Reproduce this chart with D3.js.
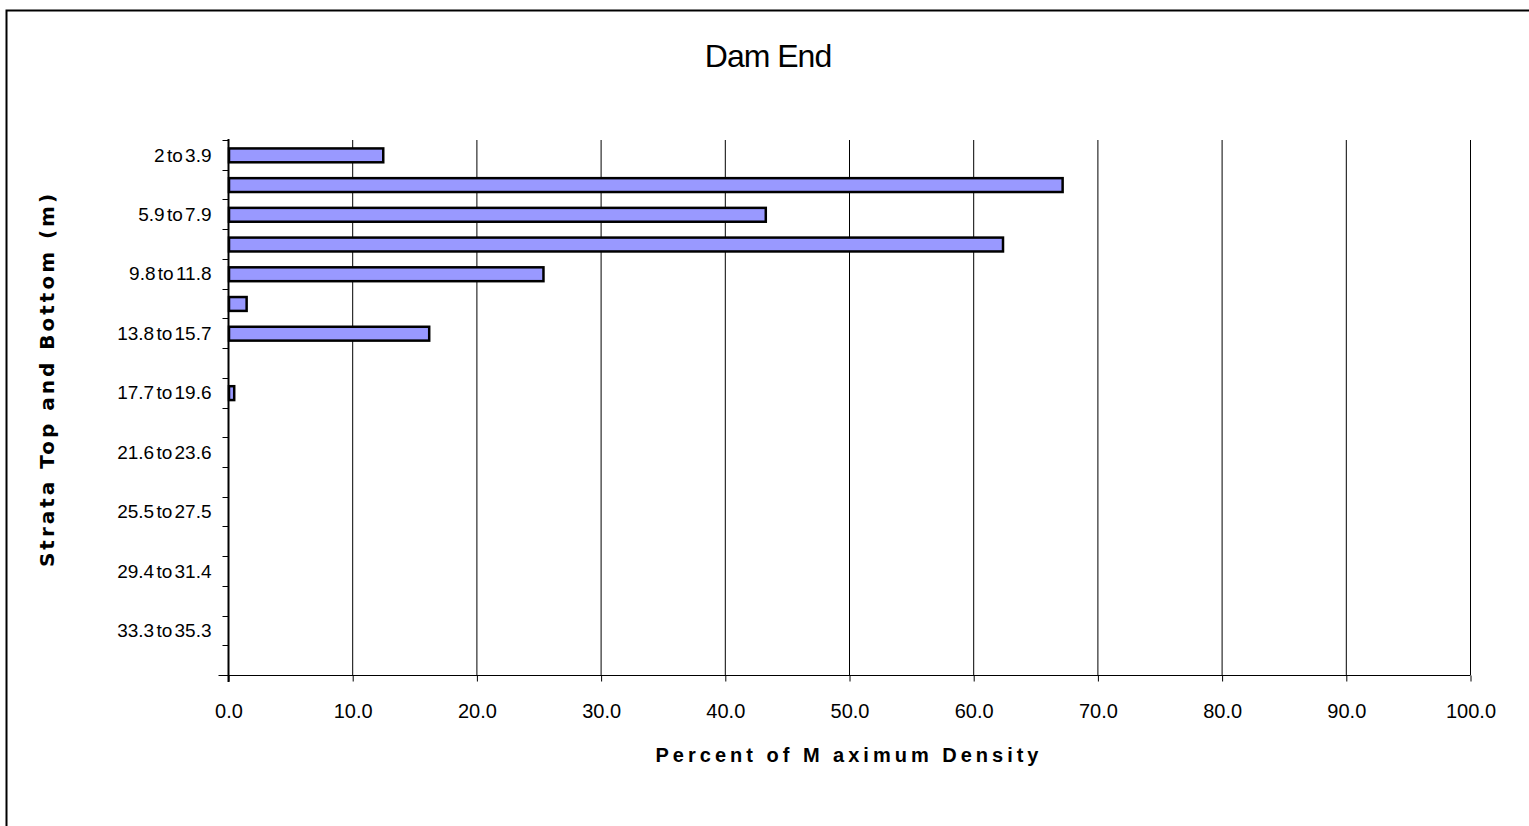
<!DOCTYPE html>
<html><head><meta charset="utf-8">
<script src="https://cdn.jsdelivr.net/npm/d3@7"></script>
<style>body{margin:0;background:#fff}svg{display:block}</style>
</head><body>
<script>
const categories = ["2 to 3.9","3.9 to 5.9","5.9 to 7.9","7.9 to 9.8","9.8 to 11.8","11.8 to 13.8","13.8 to 15.7","15.7 to 17.7","17.7 to 19.6","19.6 to 21.6","21.6 to 23.6","23.6 to 25.5","25.5 to 27.5","27.5 to 29.4","29.4 to 31.4","31.4 to 33.3","33.3 to 35.3","35.3 to 37.3"];
const values = [12.5,67.2,43.3,62.4,25.4,1.5,16.2,0,0.5,0,0,0,0,0,0,0,0,0];
const xTicks = [0,10,20,30,40,50,60,70,80,90,100];
const title = "Dam End";
const xTitle = "Percent of M aximum Density";
const yTitle = "Strata Top and Bottom (m)";

const W = 1529, H = 826;
const FONT = "Arial, 'Liberation Sans', sans-serif";
const svg = d3.select("body").append("svg").attr("width", W).attr("height", H);
svg.append("rect").attr("x",6.5).attr("y",10.5).attr("width",W+10).attr("height",H+10)
  .attr("fill","#fff").attr("stroke","#000").attr("stroke-width",2);

const L = 228, R = 1470, T = 140, B = 675;
const x = d3.scaleLinear().domain([0,100]).range([L,R]);
const y = d3.scaleBand().domain(categories).range([T,B]).paddingInner(0.5).paddingOuter(0.25);

// gridlines
svg.append("g").selectAll("line").data(xTicks.slice(1)).join("line")
  .attr("x1", d=>x(d)+0.5).attr("x2", d=>x(d)+0.5).attr("y1", T).attr("y2", B)
  .attr("stroke","#000").attr("stroke-width",1);

// bars
svg.append("g").selectAll("rect").data(values.map((v,i)=>({v,c:categories[i]})).filter(d=>d.v>0)).join("rect")
  .attr("x", x(0)+1).attr("y", d=>y(d.c)+1)
  .attr("width", d=>Math.max(x(d.v)-x(0)-1,3)).attr("height", y.bandwidth()-1)
  .attr("fill","#9999ff").attr("stroke","#000").attr("stroke-width",2.5);

// x axis
const xAxis = d3.axisBottom(x).tickValues(xTicks).tickFormat(d3.format(".1f")).tickSize(6).tickPadding(22);
const gx = svg.append("g").attr("transform",`translate(0.5,${B+0.5})`).call(xAxis);
gx.select(".domain").attr("d",`M${L-10},0H${R}`).attr("stroke","#000");
gx.selectAll(".tick line").attr("stroke","#000");
gx.selectAll("text").attr("font-family",FONT).attr("font-size",20).attr("fill","#000");

// y axis
const yEdge = d3.scaleOrdinal().domain(d3.range(categories.length+1)).range(d3.range(categories.length+1).map(i=>T + i*(B-T)/categories.length));
const gy = svg.append("g").attr("transform",`translate(${L+0.5},0)`);
gy.append("line").attr("x1",0).attr("x2",0).attr("y1",T-1).attr("y2",B+7).attr("stroke","#000").attr("stroke-width",2);
gy.selectAll("line.tk").data(d3.range(categories.length)).join("line").attr("class","tk")
  .attr("x1",-6).attr("x2",0).attr("y1",d=>Math.round(yEdge(d))+0.5).attr("y2",d=>Math.round(yEdge(d))+0.5)
  .attr("stroke","#000");
gy.selectAll("text").data(categories.filter((c,i)=>i%2===0)).join("text")
  .attr("x",-17).attr("y",d=>y(d)+y.bandwidth()/2).attr("dy","0.35em")
  .attr("text-anchor","end").attr("font-family",FONT).attr("font-size",19)
  .attr("word-spacing","-3px").text(d=>d);

// titles
svg.append("text").attr("x",768).attr("y",67).attr("text-anchor","middle")
  .attr("font-family",FONT).attr("font-size",32)
  .attr("letter-spacing","-1px").text(title);
svg.append("text").attr("x",(L+R)/2).attr("y",762).attr("text-anchor","middle")
  .attr("font-family",FONT).attr("font-size",20).attr("font-weight","bold")
  .attr("letter-spacing","4px").text(xTitle);
svg.append("text").attr("transform","translate(54,379) rotate(-90)").attr("text-anchor","middle")
  .attr("font-family","'DejaVu Sans', Verdana, sans-serif").attr("font-size",20).attr("font-weight","bold")
  .attr("letter-spacing","3px").text(yTitle);
</script>
</body></html>
